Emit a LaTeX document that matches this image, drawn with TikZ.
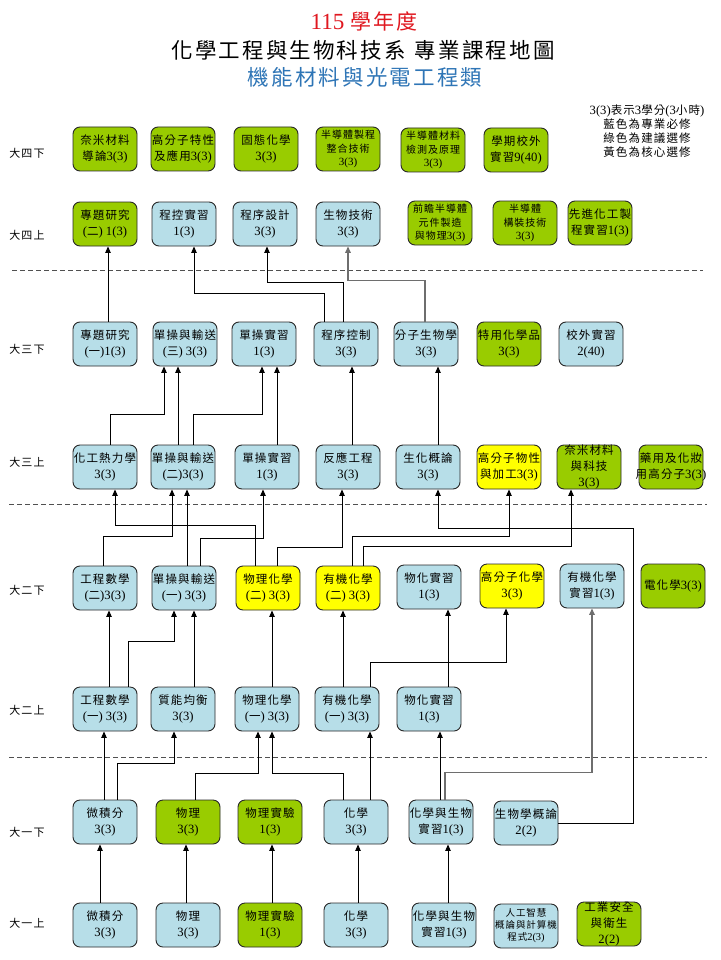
\documentclass[tikz,border=0pt]{standalone}
\usepackage{fontspec}
\setmainfont{Liberation Serif}[Scale=1.1]
\newfontfamily\cjkfont{Noto Sans CJK TC}[LetterSpace=10]
\usetikzlibrary{arrows.meta}
\definecolor{cblue}{RGB}{183,222,232}
\definecolor{cgreen}{RGB}{153,204,0}
\definecolor{cyellow}{RGB}{255,255,0}
\definecolor{tred}{RGB}{224,24,32}
\definecolor{tblue}{RGB}{46,117,182}
\definecolor{lgray}{RGB}{110,110,110}
\definecolor{dgray}{RGB}{80,80,80}
\definecolor{bordc}{RGB}{40,40,40}
% automatic switch between Latin (Times-like) and CJK font
\newXeTeXintercharclass\CJKcls
\newcount\cjkc
\cjkc="4E00
\loop
  \XeTeXcharclass\cjkc=\CJKcls
  \ifnum\cjkc<"9FFF \advance\cjkc by 1
\repeat
\XeTeXinterchartoks 0 \CJKcls = {\cjkfont}
\XeTeXinterchartoks 4095 \CJKcls = {\cjkfont}
\XeTeXinterchartoks \CJKcls 0 = {\rmfamily}
\XeTeXinterchartokenstate=1
\tikzset{
 cbox/.style={draw=bordc, line width=0.9pt, rounded corners=7pt, minimum width=64pt, minimum height=44pt, inner sep=0pt},
 bl/.style={cbox, fill=cblue},
 gr/.style={cbox, fill=cgreen},
 ye/.style={cbox, fill=cyellow},
 txt/.style={align=center, inner sep=0pt, font=\fontsize{11.5}{16}\selectfont},
 sm/.style={font=\fontsize{10}{13.5}\selectfont},
 xs/.style={font=\fontsize{9.5}{12}\selectfont},
 arr/.style={-{Triangle[length=6.5pt,width=5.5pt]}, line width=1pt, draw=black},
 garr/.style={arr, draw=lgray, line width=1.5pt},
 sep/.style={draw=dgray, line width=1pt, dash pattern=on 5pt off 3pt},
 rowlab/.style={font=\fontsize{11}{14}\selectfont, inner sep=0pt},
}
\newcommand\course[6][]{%
  \node[#5] (#2) at (#3,#4) {};
  \node[txt,#1] (#2-t) at (#2.center) {#6};
}
\begin{document}
\begin{tikzpicture}[x=1pt,y=-1pt]
\fill[white] (0,0) rectangle (720,960);
\useasboundingbox (0,0) rectangle (720,960);
% titles
\node[font=\fontsize{21}{24}\selectfont, text=tred, inner sep=0pt] (t1) at (364,21) {115 學年度};
\node[font=\fontsize{21.5}{26}\selectfont, inner sep=0pt] (t2) at (363,50) {化學工程與生物科技系\hspace{9pt}專業課程地圖};
\node[font=\fontsize{21.5}{26}\selectfont, text=tblue, inner sep=0pt] (t3) at (365,77) {機能材料與光電工程類};
% legend
\node[font=\fontsize{11.5}{14}\selectfont, align=center, inner sep=0pt] (leg) at (647,131) {3(3)表示3學分(3小時)\\藍色為專業必修\\綠色為建議選修\\黃色為核心選修};
% row labels
\node[rowlab] (l8) at (27,153) {大四下};
\node[rowlab] (l7) at (27,235) {大四上};
\node[rowlab] (l6) at (27,349) {大三下};
\node[rowlab] (l5) at (27,462) {大三上};
\node[rowlab] (l4) at (27,590) {大二下};
\node[rowlab] (l3) at (27,710) {大二上};
\node[rowlab] (l2) at (27,832) {大一下};
\node[rowlab] (l1) at (27,923) {大一上};
% separators
\coordinate (s1a) at (12,270); \coordinate (s1b) at (703,270);
\coordinate (s2a) at (9,504);  \coordinate (s2b) at (707,504);
\coordinate (s3a) at (9,757);  \coordinate (s3b) at (707,757);
\draw[sep] (s1a) -- (s1b);
\draw[sep] (s2a) -- (s2b);
\draw[sep] (s3a) -- (s3b);
% row 8
\course{r8a}{105}{149}{gr}{奈米材料\\導論3(3)}
\course{r8b}{183}{149}{gr}{高分子特性\\及應用3(3)}
\course{r8c}{266}{149}{gr}{固態化學\\3(3)}
\course[sm]{r8d}{348}{149}{gr}{半導體製程\\整合技術\\3(3)}
\course[sm]{r8e}{433}{150}{gr}{半導體材料\\檢測及原理\\3(3)}
\course{r8f}{516}{150}{gr}{學期校外\\實習9(40)}
% row 7
\course{r7a}{105}{224}{gr}{專題研究\\(二) 1(3)}
\course{r7b}{184}{224}{bl}{程控實習\\1(3)}
\course{r7c}{265}{224}{bl}{程序設計\\3(3)}
\course{r7d}{348}{224}{bl}{生物技術\\3(3)}
\course[sm]{r7e}{440}{223}{gr}{前瞻半導體\\元件製造\\與物理3(3)}
\course[sm]{r7f}{525}{223}{gr}{半導體\\構裝技術\\3(3)}
\course{r7g}{600}{223}{gr}{先進化工製\\程實習1(3)}
% row 6
\course{r6a}{105}{344}{bl}{專題研究\\(一)1(3)}
\course{r6b}{185}{344}{bl}{單操與輸送\\(三) 3(3)}
\course{r6c}{264}{344}{bl}{單操實習\\1(3)}
\course{r6d}{346}{344}{bl}{程序控制\\3(3)}
\course{r6e}{426}{344}{bl}{分子生物學\\3(3)}
\course{r6f}{509}{344}{gr}{特用化學品\\3(3)}
\course{r6g}{591}{344}{bl}{校外實習\\2(40)}
% row 5
\course{r5a}{105}{467}{bl}{化工熱力學\\3(3)}
\course{r5b}{183}{467}{bl}{單操與輸送\\(二)3(3)}
\course{r5c}{267}{467}{bl}{單操實習\\1(3)}
\course{r5d}{348}{467}{bl}{反應工程\\3(3)}
\course{r5e}{428}{467}{bl}{生化概論\\3(3)}
\course{r5f}{509}{467}{ye}{高分子物性\\與加工3(3)}
\course{r5g}{589}{467}{gr}{奈米材料\\與科技\\3(3)}
\course{r5h}{671}{467}{gr}{藥用及化妝\\用高分子3(3)}
% row 4
\course{r4a}{105}{588}{bl}{工程數學\\(二)3(3)}
\course{r4b}{184}{588}{bl}{單操與輸送\\(一) 3(3)}
\course{r4c}{268}{588}{ye}{物理化學\\(二) 3(3)}
\course{r4d}{348}{588}{ye}{有機化學\\(二) 3(3)}
\course{r4e}{429}{587}{bl}{物化實習\\1(3)}
\course{r4f}{512}{586}{ye}{高分子化學\\3(3)}
\course{r4g}{592}{586}{bl}{有機化學\\實習1(3)}
\course{r4h}{673}{586}{gr}{電化學3(3)}
% row 3
\course{r3a}{105}{709}{bl}{工程數學\\(一) 3(3)}
\course{r3b}{183}{709}{bl}{質能均衡\\3(3)}
\course{r3c}{267}{709}{bl}{物理化學\\(一) 3(3)}
\course{r3d}{347}{709}{bl}{有機化學\\(一) 3(3)}
\course{r3e}{429}{709}{bl}{物化實習\\1(3)}
% row 2
\course{r2a}{105}{822}{bl}{微積分\\3(3)}
\course{r2b}{188}{822}{gr}{物理\\3(3)}
\course{r2c}{270}{822}{gr}{物理實驗\\1(3)}
\course{r2d}{356}{822}{bl}{化學\\3(3)}
\course{r2e}{441}{822}{bl}{化學與生物\\實習1(3)}
\course{r2f}{526}{823}{bl}{生物學概論\\2(2)}
% row 1
\course{r1a}{105}{925}{bl}{微積分\\3(3)}
\course{r1b}{188}{925}{bl}{物理\\3(3)}
\course{r1c}{270}{925}{gr}{物理實驗\\1(3)}
\course{r1d}{356}{925}{bl}{化學\\3(3)}
\course{r1e}{444}{925}{bl}{化學與生物\\實習1(3)}
\course[xs]{r1f}{526}{926}{bl}{人工智慧\\概論與計算機\\程式2(3)}
\course{r1g}{609}{924}{gr}{工業安全\\與衛生\\2(2)}
% connectors: row 6 -> row 7
\draw[arr] ([xshift=3]r6a.north) -- ([xshift=3]r7a.south);
\draw[arr] ([xshift=-22]r6d.north) -- ++(0,-28) -| ([xshift=10]r7b.south);
\draw[arr] ([xshift=-3]r6d.north) -- ++(0,-39) -| ([xshift=2]r7c.south);
\draw[garr] ([xshift=-1]r6e.north) -- ++(0,-41) -| ([xshift=0]r7d.south);
% row 5 -> row 6
\draw[arr] ([xshift=5]r5a.north) -- ++(0,-30) -| ([xshift=-21]r6b.south);
\draw[arr] ([xshift=-5]r5b.north) -- ([xshift=-7]r6b.south);
\draw[arr] ([xshift=10]r5b.north) -- ++(0,-30) -| ([xshift=-2]r6c.south);
\draw[arr] ([xshift=10]r5c.north) -- ([xshift=13]r6c.south);
\draw[arr] ([xshift=4]r5d.north) -- ([xshift=6]r6d.south);
\draw[arr] ([xshift=10]r5e.north) -- ([xshift=12]r6e.south);
% row 4 -> row 5
\draw[arr] ([xshift=-13]r4c.north) -- ++(0,-40) -| ([xshift=10]r5a.south);
\draw[arr] ([xshift=-2]r4a.north) -- ++(0,-29) -| ([xshift=-11]r5b.south);
\draw[arr] ([xshift=3]r4b.north) -- ([xshift=4]r5b.south);
\draw[arr] ([xshift=16]r4b.north) -- ++(0,-27) -| ([xshift=-4]r5c.south);
\draw[arr] ([xshift=9]r4c.north) -- ++(0,-18) -| ([xshift=-6]r5d.south);
\draw[arr] ([xshift=4]r4d.north) -- ++(0,-29) -| ([xshift=0]r5f.south);
\draw[arr] ([xshift=15]r4d.north) -- ++(0,-19) -| ([xshift=-18]r5g.south);
\draw[arr] (r2f.east) -| ++(75,-295) -| ([xshift=10]r5e.south);
% row 3 -> row 4
\draw[arr] ([xshift=4]r3a.north) -- ([xshift=4]r4a.south);
\draw[arr] ([xshift=23]r3a.north) -- ++(0,-45) -| ([xshift=-10]r4b.south);
\draw[arr] ([xshift=11]r3b.north) -- ([xshift=10]r4b.south);
\draw[arr] ([xshift=5]r3c.north) -- ([xshift=4]r4c.south);
\draw[arr] ([xshift=-4]r3d.north) -- ([xshift=-5]r4d.south);
\draw[arr] ([xshift=19]r3e.north) -- ([xshift=19]r4e.south);
\draw[arr] ([xshift=23]r3d.north) -- ++(0,-24) -| ([xshift=-6]r4f.south);
\draw[garr] ([xshift=4]r2e.north) -- ++(0,-27) -| ([xshift=0]r4g.south);
% row 2 -> row 3
\draw[arr] ([xshift=-1]r2a.north) -- ([xshift=-1]r3a.south);
\draw[arr] ([xshift=12]r2a.north) -- ++(0,-36) -| ([xshift=-9]r3b.south);
\draw[arr] ([xshift=7]r2b.north) -- ++(0,-26) -| ([xshift=-9]r3c.south);
\draw[arr] ([xshift=-13]r2d.north) -- ++(0,-26) -| ([xshift=5]r3c.south);
\draw[arr] ([xshift=14]r2d.north) -- ([xshift=23]r3d.south);
\draw[arr] ([xshift=-1]r2e.north) -- ([xshift=11]r3e.south);
% row 1 -> row 2
\draw[arr] ([xshift=-5]r1a.north) -- ([xshift=-5]r2a.south);
\draw[arr] ([xshift=-2]r1b.north) -- ([xshift=-2]r2b.south);
\draw[arr] ([xshift=2]r1c.north) -- ([xshift=2]r2c.south);
\draw[arr] ([xshift=2]r1d.north) -- ([xshift=2]r2d.south);
\draw[arr] ([xshift=4]r1e.north) -- ([xshift=7]r2e.south);
\end{tikzpicture}
\end{document}
